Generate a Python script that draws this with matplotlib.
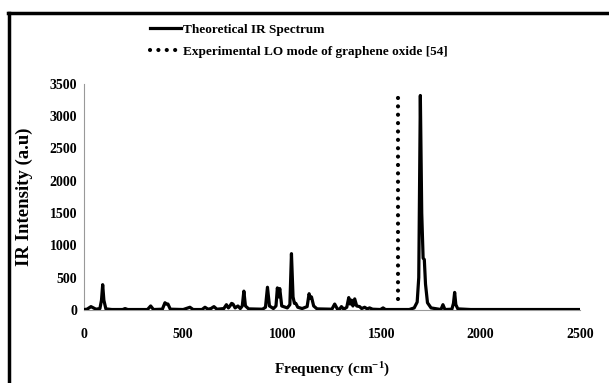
import matplotlib.pyplot as plt
from matplotlib.lines import Line2D

# Theoretical IR spectrum (cm-1, a.u.)
freq = [0, 15, 25, 35, 60, 80, 88, 94, 100, 110, 140, 195, 207, 220,
        320, 336, 350, 395, 408, 416, 423, 435, 500, 534, 550,
        595, 610, 625, 640, 655, 670, 705, 718, 728, 736, 744, 751, 762,
        776, 788, 798, 806, 814, 830, 900, 915, 925, 935, 955, 968, 975,
        981, 987, 997, 1025, 1038, 1046, 1054, 1061, 1068, 1078, 1100,
        1125, 1135, 1141, 1147, 1158, 1175, 1250, 1264, 1278, 1290, 1298,
        1310, 1325, 1335, 1342, 1349, 1356, 1365, 1375, 1390, 1400, 1415,
        1428, 1440, 1455, 1495, 1508, 1520, 1640, 1665, 1680, 1688, 1696,
        1703, 1710, 1716, 1722, 1732, 1750, 1800, 1810, 1820, 1855, 1863,
        1869, 1875, 1885, 1950, 2500]
intensity = [5, 10, 30, 50, 10, 20, 150, 390, 150, 15, 5, 5, 20, 5,
             5, 60, 5, 10, 110, 90, 90, 10, 5, 40, 5,
             5, 40, 10, 20, 50, 10, 20, 80, 30, 60, 100, 90, 30,
             60, 20, 60, 290, 60, 15, 10, 40, 350, 60, 20, 60, 340,
             200, 330, 60, 30, 80, 870, 200, 100, 100, 40, 20,
             50, 250, 180, 200, 60, 15, 10, 90, 10, 15, 50,
             10, 40, 190, 90, 150, 60, 170, 60, 50, 20, 40,
             15, 30, 10, 5, 30, 5, 5, 30, 120, 500, 3320,
             1500, 800, 780, 400, 110, 30, 5, 80, 5, 10, 100,
             270, 80, 15, 5, 5]

# Experimental LO mode of graphene oxide [54]
lo_freq = [1584, 1584]
lo_intensity = [170, 3290]

xticks = [0, 500, 1000, 1500, 2000, 2500]
yticks = [0, 500, 1000, 1500, 2000, 2500, 3000, 3500]

plt.rcParams['font.family'] = 'Liberation Serif'
plt.rcParams['font.weight'] = 'bold'
plt.rcParams['mathtext.fontset'] = 'custom'
plt.rcParams['mathtext.rm'] = 'Liberation Serif:bold'
plt.rcParams['mathtext.it'] = 'Liberation Serif:bold'
plt.rcParams['mathtext.bf'] = 'Liberation Serif:bold'

fig = plt.figure(figsize=(6.09, 3.83), dpi=100)
ax = fig.add_axes([0.138, 0.191, 0.814, 0.590])

ax.plot(freq, intensity, color='black', linewidth=2.3, solid_joinstyle='round',
        label='Theoretical IR Spectrum', zorder=3)
ax.plot(lo_freq, lo_intensity, color='black', linewidth=3,
        linestyle=(0, (0.01, 2.0)), dash_capstyle='round',
        label='Experimental LO mode of graphene oxide [54]', zorder=3)

ax.set_xlim(0, 2500)
ax.set_ylim(0, 3500)
ax.set_xticks(xticks)
ax.set_yticks(yticks)
ax.tick_params(length=0, labelsize=10)
ax.tick_params(axis='x', pad=13)
ax.tick_params(axis='y', pad=5)
for s in ['top', 'right']:
    ax.spines[s].set_visible(False)
for s in ['left', 'bottom']:
    ax.spines[s].set_color('#999999')
    ax.spines[s].set_linewidth(0.8)

ax.set_ylabel('IR Intensity (a.u)', fontsize=13.5, fontweight='bold', labelpad=12)
ax.set_xlabel(r'Frequency (cm$^{-1}$)', fontsize=11, fontweight='bold', labelpad=14)

fig.legend(loc='upper left', bbox_to_anchor=(0.238, 0.952), frameon=False,
           fontsize=9.5, handlelength=2.3, handletextpad=0.2, labelspacing=0.75,
           borderaxespad=0)

# border drawn on the left and top of the picture
fig.add_artist(Line2D([0.015, 0.015], [0, 0.967], color='black', linewidth=2.5))
fig.add_artist(Line2D([0.013, 1], [0.967, 0.967], color='black', linewidth=2.5))

plt.savefig('out.png', dpi=100)
